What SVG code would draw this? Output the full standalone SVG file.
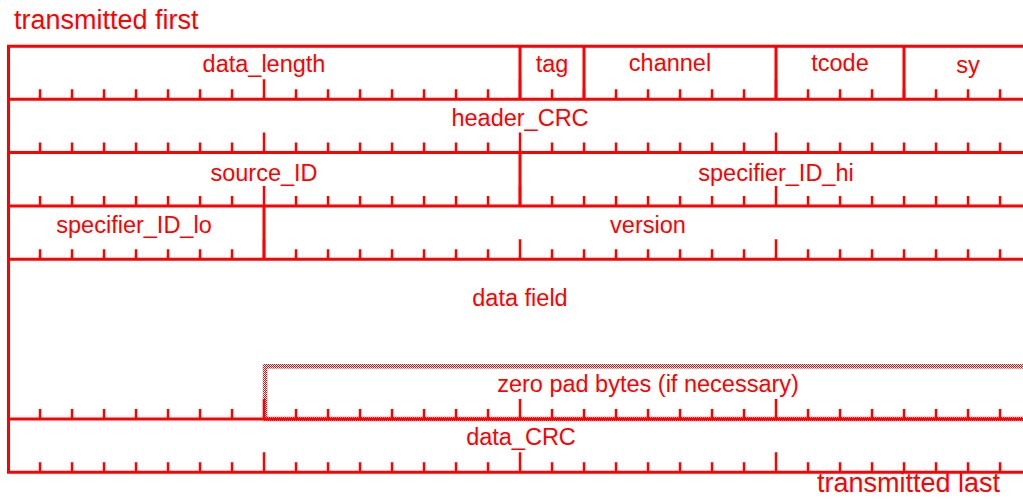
<svg xmlns="http://www.w3.org/2000/svg" xmlns:xlink="http://www.w3.org/1999/xlink" width="1023" height="499" viewBox="0 0 1023 499">
<style>
.ln{stroke:#ff0000;stroke-width:3;fill:none}
.tk{stroke:#ff0000;stroke-width:2.5;fill:none}
.lb{font-family:"Liberation Sans",Arial,Helvetica,sans-serif;font-size:23.5px;fill:#ff0000;text-anchor:middle}
.cap{font-family:"Liberation Sans",Arial,Helvetica,sans-serif;font-size:27px;fill:#ff0000}
</style>
<defs>
<pattern id="hatch" width="2" height="2" patternUnits="userSpaceOnUse"><rect width="1" height="1" fill="#ff0000"/><rect x="1" y="1" width="1" height="1" fill="#ff0000"/></pattern>
<path id="ticks" class="tk" d="M40 0v-10M72 0v-10M104 0v-10M136 0v-10M168 0v-10M200 0v-10M232 0v-10M264 0v-20M296 0v-10M328 0v-10M360 0v-10M392 0v-10M424 0v-10M456 0v-10M488 0v-10M520 0v-20M552 0v-10M584 0v-10M616 0v-10M648 0v-10M680 0v-10M712 0v-10M744 0v-10M776 0v-20M808 0v-10M840 0v-10M872 0v-10M904 0v-10M936 0v-10M968 0v-10M1000 0v-10"/>
</defs>
<rect width="1023" height="499" fill="#ffffff"/>
<g id="zero_pad_region">
<rect x="265" y="366.3" width="800" height="52.7" fill="none" stroke="url(#hatch)" stroke-width="4.5"/>
</g>
<g id="grid">
<path class="ln" d="M8.5 44.7V473.7M7 46.2H1023M7 99.3H1023M7 152.6H1023M7 205.9H1023M7 259.2H1023M7 419H1023M7 472.2H1023"/>
<path class="ln" d="M520 46.2V99.3M584 46.2V99.3M776 46.2V99.3M904 46.2V99.3M520 152.6V205.9M264 205.9V259.2"/>
<use xlink:href="#ticks" y="99.3"/>
<use xlink:href="#ticks" y="152.6"/>
<use xlink:href="#ticks" y="205.9"/>
<use xlink:href="#ticks" y="259.2"/>
<use xlink:href="#ticks" y="419"/>
<use xlink:href="#ticks" y="472.2"/>
</g>
<g id="connectors"></g>
<g id="f_data_length"><text class="lb" x="264" y="72">data_length</text></g>
<g id="f_tag"><text class="lb" x="552" y="71.5">tag</text></g>
<g id="f_channel"><text class="lb" x="670" y="71">channel</text></g>
<g id="f_tcode"><text class="lb" x="840" y="70.5">tcode</text></g>
<g id="f_sy"><text class="lb" x="968" y="72.5">sy</text></g>
<g id="f_header_CRC"><text class="lb" x="520" y="125.5">header_CRC</text></g>
<g id="f_source_ID"><text class="lb" x="264" y="180.5">source_ID</text></g>
<g id="f_specifier_ID_hi"><text class="lb" x="776" y="180.5">specifier_ID_hi</text></g>
<g id="f_specifier_ID_lo"><text class="lb" x="134" y="232.5">specifier_ID_lo</text></g>
<g id="f_version"><text class="lb" x="648" y="232.5">version</text></g>
<g id="f_data_field"><text class="lb" x="520" y="306">data field</text></g>
<g id="f_zero_pad"><text class="lb" x="648" y="392">zero pad bytes (if necessary)</text></g>
<g id="f_data_CRC"><text class="lb" x="521" y="445">data_CRC</text></g>
<g id="captions">
<text class="cap" x="14" y="28.5">transmitted first</text>
<text class="cap" x="817" y="492">transmitted last</text>
</g>
</svg>
